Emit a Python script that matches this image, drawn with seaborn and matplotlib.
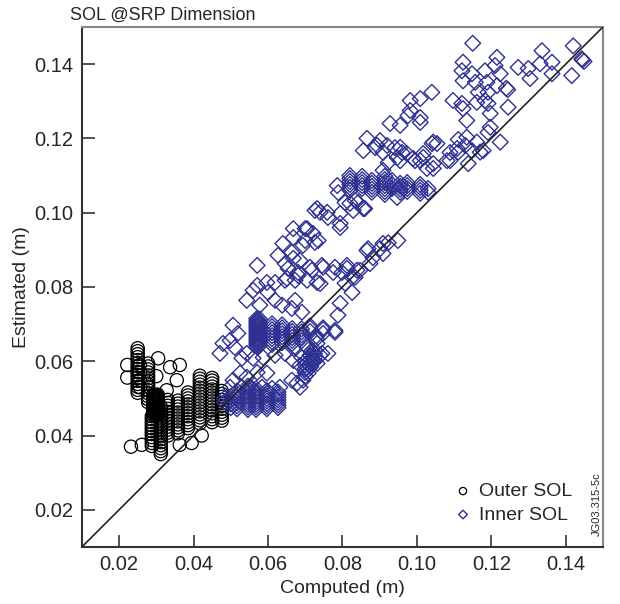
import pandas as pd
import seaborn as sns
import matplotlib.pyplot as plt

# Outer SOL: stacked columns (x -> list of y) and loose points
outer_stacks = {
    0.0250: [0.0515, 0.0523, 0.0531, 0.0539, 0.0547, 0.0555, 0.0563, 0.0571, 0.0579,
             0.0587, 0.0595, 0.0603, 0.0611, 0.0619, 0.0627, 0.0635],
    0.0256: [0.0530, 0.0550, 0.0570, 0.0590],
    0.0278: [0.0490, 0.0498, 0.0506, 0.0514, 0.0522, 0.0530, 0.0538, 0.0546, 0.0554,
             0.0562, 0.0570, 0.0578, 0.0586, 0.0594],
    0.0292: [0.0455, 0.0460, 0.0465, 0.0470, 0.0475, 0.0480, 0.0485, 0.0490, 0.0495, 0.0500, 0.0505, 0.0510],
    0.0298: [0.0455, 0.0460, 0.0465, 0.0470, 0.0475, 0.0480, 0.0485, 0.0490, 0.0495, 0.0500, 0.0505, 0.0510],
    0.0304: [0.0455, 0.0460, 0.0465, 0.0470, 0.0475, 0.0480, 0.0485, 0.0490, 0.0495, 0.0500, 0.0505, 0.0510],
    0.0288: [0.0372, 0.0380, 0.0388, 0.0396, 0.0404, 0.0412, 0.0420, 0.0428, 0.0436, 0.0444, 0.0452],
    0.0312: [0.0350, 0.0358, 0.0366, 0.0374, 0.0382, 0.0390, 0.0398, 0.0406, 0.0414, 0.0422,
             0.0430, 0.0438, 0.0446, 0.0454, 0.0462, 0.0470, 0.0478],
    0.0331: [0.0400, 0.0408, 0.0416, 0.0424, 0.0432, 0.0440, 0.0448, 0.0456, 0.0464, 0.0472,
             0.0480, 0.0488, 0.0496],
    0.0358: [0.0406, 0.0414, 0.0422, 0.0430, 0.0438, 0.0446, 0.0454, 0.0462, 0.0470, 0.0478, 0.0486, 0.0494],
    0.0385: [0.0420, 0.0428, 0.0436, 0.0444, 0.0452, 0.0460, 0.0468, 0.0476, 0.0484, 0.0492,
             0.0500, 0.0508, 0.0516],
    0.0417: [0.0433, 0.0441, 0.0449, 0.0457, 0.0465, 0.0473, 0.0481, 0.0489, 0.0497, 0.0505,
             0.0513, 0.0521, 0.0529, 0.0537, 0.0545, 0.0553, 0.0561],
    0.0450: [0.0436, 0.0444, 0.0452, 0.0460, 0.0468, 0.0476, 0.0484, 0.0492, 0.0500, 0.0508,
             0.0516, 0.0524, 0.0532, 0.0540, 0.0548, 0.0555],
    0.0476: [0.0440, 0.0448, 0.0456, 0.0464, 0.0472, 0.0480, 0.0488, 0.0496, 0.0504, 0.0512, 0.0520],
}
outer_loose_x = [0.0222, 0.0222, 0.0232, 0.0261, 0.0305, 0.0337, 0.0363, 0.0355, 0.0328,
                 0.0363, 0.0395, 0.0422, 0.0300]
outer_loose_y = [0.0590, 0.0556, 0.0370, 0.0375, 0.0608, 0.0584, 0.0590, 0.0549, 0.0522,
                 0.0375, 0.0380, 0.0400, 0.0560]

# Inner SOL: stacked columns and loose points
inner_stacks = {
    0.0483: [0.0490, 0.0500],
    0.0500: [0.0475, 0.0485, 0.0495, 0.0505],
    0.0517: [0.0472, 0.0480, 0.0488, 0.0496, 0.0504, 0.0512, 0.0520],
    0.0546: [0.0470, 0.0477, 0.0484, 0.0491, 0.0498, 0.0505, 0.0512, 0.0519, 0.0526, 0.0533],
    0.0568: [0.0470, 0.0477, 0.0484, 0.0491, 0.0498, 0.0505, 0.0512, 0.0519, 0.0526],
    0.0597: [0.0472, 0.0479, 0.0486, 0.0493, 0.0500, 0.0507, 0.0514, 0.0521],
    0.0627: [0.0475, 0.0482, 0.0489, 0.0496, 0.0503, 0.0510, 0.0517],
    0.0570: [0.0640, 0.0645, 0.0650, 0.0655, 0.0660, 0.0665, 0.0670, 0.0675, 0.0680,
             0.0685, 0.0690, 0.0695, 0.0700, 0.0705, 0.0710, 0.0715],
    0.0577: [0.0642, 0.0650, 0.0658, 0.0666, 0.0674, 0.0682, 0.0690, 0.0698, 0.0706, 0.0714],
    0.0611: [0.0645, 0.0653, 0.0661, 0.0669, 0.0677, 0.0685, 0.0693, 0.0701],
    0.0638: [0.0650, 0.0658, 0.0666, 0.0674, 0.0682, 0.0690, 0.0698],
    0.0665: [0.0648, 0.0656, 0.0664, 0.0672, 0.0680, 0.0688],
    0.0690: [0.0655, 0.0663, 0.0671, 0.0679, 0.0687],
    0.0713: [0.0680, 0.0689, 0.0695],
    0.0748: [0.0675, 0.0685, 0.0690],
    0.0780: [0.0678, 0.0683],
    0.0730: [0.0660, 0.0668],
    0.0700: [0.0560, 0.0570, 0.0580, 0.0590, 0.0600],
    0.0715: [0.0585, 0.0595, 0.0605, 0.0615],
    0.0725: [0.0600, 0.0610, 0.0620, 0.0630],
    0.0820: [0.1100, 0.1092, 0.1084, 0.1076, 0.1068, 0.1060],
    0.0853: [0.1098, 0.1089, 0.1081, 0.1073, 0.1065],
    0.0879: [0.1087, 0.1079, 0.1071, 0.1063, 0.1055],
    0.0914: [0.1098, 0.1089, 0.1081, 0.1073, 0.1065, 0.1057, 0.1049],
    0.0933: [0.1087, 0.1076, 0.1065],
    0.0955: [0.1079, 0.1071, 0.1063, 0.1055],
    0.0974: [0.1081, 0.1073, 0.1065, 0.1057],
    0.1009: [0.1076, 0.1068, 0.1060, 0.1052],
    0.1030: [0.1065, 0.1055],
}
inner_loose_x = [
    0.1150, 0.1124, 0.1121, 0.1124, 0.1148, 0.1157, 0.1183, 0.1215, 0.1210, 0.1224,
    0.1188, 0.1240, 0.1244, 0.1215, 0.1272, 0.1299, 0.1304, 0.1331, 0.1336, 0.1363,
    0.1363, 0.1420, 0.1445, 0.1449, 0.1443, 0.1416, 0.0982, 0.1009, 0.1040, 0.0976,
    0.1009, 0.0982, 0.1097, 0.1121, 0.1124, 0.1134, 0.1161, 0.1183, 0.1191, 0.1197,
    0.1191, 0.1165, 0.1245, 0.1044, 0.1134, 0.1130, 0.1161, 0.1197, 0.1191, 0.1224,
    0.1170, 0.1111, 0.1089, 0.1138, 0.1044, 0.1017, 0.0973, 0.0955,
    0.0928, 0.0955, 0.1009, 0.1054, 0.1089, 0.1108, 0.1081, 0.1044, 0.1027, 0.1009,
    0.1017, 0.0995, 0.0856, 0.0893, 0.0909, 0.0941, 0.0960, 0.0947, 0.0901, 0.0866,
    0.0888, 0.0920, 0.0990, 0.1041, 0.0923, 0.0909, 0.0955, 0.1111, 0.1178, 0.1148,
    0.0786, 0.0789, 0.0807, 0.0842, 0.0860, 0.0829, 0.0794, 0.0740, 0.0732, 0.0761,
    0.0794, 0.0705, 0.0721, 0.0700, 0.0735, 0.0947, 0.0834, 0.0856, 0.0820, 0.0759,
    0.0726, 0.0794,
    0.0668, 0.0700, 0.0668, 0.0640, 0.0668, 0.0686, 0.0646, 0.0718, 0.0748, 0.0775,
    0.0812, 0.0834, 0.0807, 0.0732, 0.0681, 0.0651,
    0.0869, 0.0901, 0.0909, 0.0949, 0.0847, 0.0826, 0.0909, 0.0874, 0.0923, 0.0866,
    0.0571, 0.0627, 0.0664, 0.0694, 0.0726, 0.0654, 0.0681, 0.0713, 0.0745, 0.0780,
    0.0799, 0.0812, 0.0826, 0.0839, 0.0882, 0.0740, 0.0705, 0.0673, 0.0646, 0.0619,
    0.0597, 0.0571, 0.0600, 0.0560, 0.0543, 0.0578, 0.0619, 0.0638, 0.0673, 0.0664,
    0.0691, 0.0794, 0.0788, 0.0506, 0.0519, 0.0498, 0.0479, 0.0471, 0.0511, 0.0543,
    0.0530, 0.0560, 0.0587, 0.0619, 0.0646, 0.0668, 0.0691, 0.0713, 0.0740, 0.0761,
    0.0705, 0.0732,
    0.0668, 0.0686, 0.0705, 0.0708, 0.0694, 0.0678, 0.0686, 0.0721, 0.0718, 0.0705,
    0.0745, 0.0732,
    0.0525, 0.0506, 0.0498, 0.0543, 0.0571, 0.0597, 0.0530, 0.0557, 0.0584, 0.0611,
    0.0632, 0.0664,
]
inner_loose_y = [
    0.1456, 0.1405, 0.1382, 0.1355, 0.1374, 0.1351, 0.1382, 0.1418, 0.1396, 0.1374,
    0.1351, 0.1335, 0.1331, 0.1342, 0.1391, 0.1388, 0.1361, 0.1401, 0.1436, 0.1405,
    0.1374, 0.1449, 0.1411, 0.1407, 0.1414, 0.1369, 0.1302, 0.1307, 0.1324, 0.1261,
    0.1256, 0.1275, 0.1302, 0.1294, 0.1280, 0.1248, 0.1297, 0.1302, 0.1294, 0.1267,
    0.1324, 0.1324, 0.1284, 0.1190, 0.1203, 0.1181, 0.1190, 0.1230, 0.1216, 0.1190,
    0.1163, 0.1163, 0.1140, 0.1132, 0.1119, 0.1149, 0.1159, 0.1176,
    0.1240, 0.1235, 0.1243, 0.1186, 0.1162, 0.1173, 0.1140, 0.1132, 0.1119, 0.1140,
    0.1159, 0.1140, 0.1167, 0.1181, 0.1162, 0.1175, 0.1162, 0.1148, 0.1194, 0.1200,
    0.1175, 0.1181, 0.1146, 0.1186, 0.1135, 0.1114, 0.1140, 0.1197, 0.1167, 0.1167,
    0.1073, 0.1054, 0.1027, 0.1027, 0.1011, 0.1006, 0.0998, 0.1001, 0.1011, 0.0987,
    0.0960, 0.0957, 0.0944, 0.0925, 0.0925, 0.1041, 0.1033, 0.1011, 0.1025, 0.1001,
    0.1006, 0.0971,
    0.0957, 0.0957, 0.0933, 0.0917, 0.0877, 0.0871, 0.0863, 0.0845, 0.0853, 0.0839,
    0.0850, 0.0826, 0.0810, 0.0812, 0.0831, 0.0823,
    0.0903, 0.0903, 0.0917, 0.0925, 0.0845, 0.0785, 0.0890, 0.0863, 0.0919, 0.0898,
    0.0858, 0.0885, 0.0893, 0.0912, 0.0920, 0.0850, 0.0839, 0.0853, 0.0858, 0.0853,
    0.0839, 0.0858, 0.0826, 0.0845, 0.0879, 0.0809, 0.0818, 0.0818, 0.0818, 0.0812,
    0.0812, 0.0804, 0.0785, 0.0791, 0.0764, 0.0751, 0.0764, 0.0751, 0.0764, 0.0742,
    0.0732, 0.0756, 0.0724, 0.0697, 0.0675, 0.0656, 0.0648, 0.0621, 0.0637, 0.0621,
    0.0608, 0.0608, 0.0610, 0.0616, 0.0621, 0.0635, 0.0610, 0.0616, 0.0616, 0.0621,
    0.0594, 0.0594,
    0.0602, 0.0589, 0.0583, 0.0568, 0.0549, 0.0541, 0.0530, 0.0602, 0.0629, 0.0637,
    0.0621, 0.0648,
    0.0568, 0.0549, 0.0530, 0.0557, 0.0570, 0.0568, 0.0530, 0.0527, 0.0530, 0.0527,
    0.0530, 0.0549,
]


def flatten(stacks, loose_x, loose_y, label):
    xs, ys = [], []
    for x, col in stacks.items():
        xs += [x] * len(col)
        ys += col
    xs += loose_x
    ys += loose_y
    return pd.DataFrame({'computed': xs, 'estimated': ys, 'region': label})


outer = flatten(outer_stacks, outer_loose_x, outer_loose_y, 'Outer SOL')
inner = flatten(inner_stacks, inner_loose_x, inner_loose_y, 'Inner SOL')

sns.set_style('ticks')
plt.rcParams['font.family'] = ['Liberation Sans', 'DejaVu Sans']

fig = plt.figure(figsize=(6.2, 6.04), dpi=100)
ax = fig.add_axes([0.132, 0.0944, 0.8406, 0.861])

blue = '#2e3192'
sns.scatterplot(data=outer, x='computed', y='estimated', marker='o', s=90,
                facecolors='none', edgecolor='black', linewidth=0.9,
                label='Outer SOL', ax=ax)
sns.scatterplot(data=inner, x='computed', y='estimated', marker='D', s=64,
                facecolors='none', edgecolor=blue, linewidth=1.0,
                label='Inner SOL', ax=ax)

ax.plot([0.01, 0.15], [0.01, 0.15], color='#222222', lw=1.2, zorder=3)

ax.set_xlim(0.01, 0.15)
ax.set_ylim(0.01, 0.15)
ticks = [0.02, 0.04, 0.06, 0.08, 0.10, 0.12, 0.14]
ax.set_xticks(ticks)
ax.set_yticks(ticks)
ax.set_xticklabels(['0.02', '0.04', '0.06', '0.08', '0.10', '0.12', '0.14'])
ax.set_yticklabels(['0.02', '0.04', '0.06', '0.08', '0.10', '0.12', '0.14'])
ax.tick_params(direction='in', length=9, width=1.2, labelsize=14.5, color='#333333', pad=6)
ax.set_xlabel('Computed (m)', fontsize=14, labelpad=4)
ax.set_ylabel('Estimated (m)', fontsize=14, labelpad=3)

for side in ['left', 'bottom']:
    ax.spines[side].set_color('#333333')
    ax.spines[side].set_linewidth(1.5)
for side in ['top', 'right']:
    ax.spines[side].set_visible(True)
    ax.spines[side].set_color('#888888')
    ax.spines[side].set_linewidth(1.5)

leg = ax.legend(loc='lower right', bbox_to_anchor=(0.955, 0.03), frameon=False,
                fontsize=14, markerscale=0.55, handletextpad=0.3, labelspacing=0.3,
                handlelength=1.0, borderaxespad=0)

fig.text(0.113, 0.975, 'SOL @SRP Dimension', fontsize=13, va='center', ha='left')
fig.text(0.963, 0.165, 'JG03.315-5c', fontsize=8, rotation=90, va='center', ha='center')

fig.savefig('out.png', dpi=100)
